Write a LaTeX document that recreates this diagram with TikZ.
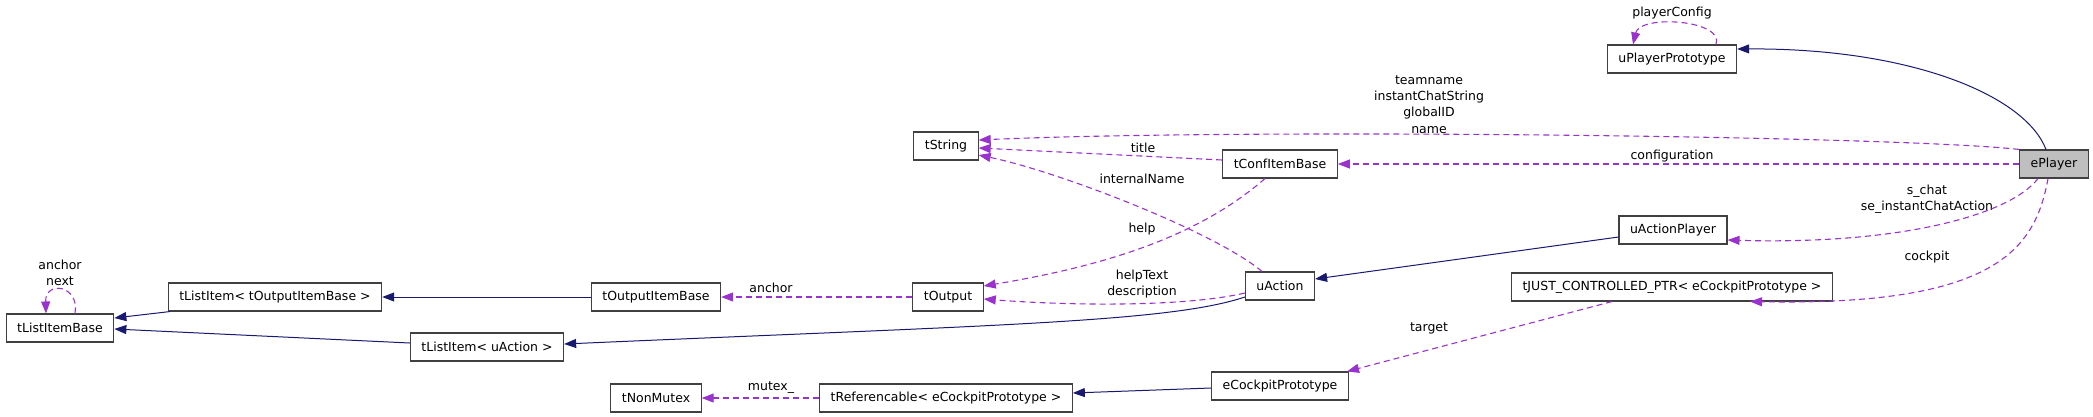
\documentclass[tikz,border=0pt]{standalone}
\usepackage{fontspec}
\setmainfont{DejaVu Sans}
\usetikzlibrary{arrows.meta,positioning}
\definecolor{inhblue}{HTML}{191970}
\definecolor{usepurple}{HTML}{9A32CD}
\definecolor{boxgray}{HTML}{BFBFBF}
\tikzstyle{klass} = [draw=black!75,line width=1.1pt,rectangle,inner xsep=11pt,inner ysep=0pt,minimum height=28pt,font=\fontsize{12.5}{16}\selectfont]
\tikzstyle{lbl} = [align=center,inner sep=0pt,font=\fontsize{12.5}{16.3}\selectfont]
\tikzstyle{inherit} = [draw=inhblue,line width=1pt,-{Triangle[length=12pt,width=9pt]}]
\tikzstyle{uses} = [draw=usepurple,line width=1.1pt,dash pattern=on 6pt off 4pt,-{Triangle[length=12pt,width=9pt,fill=usepurple]}]
\def \sh {10pt}

\begin{document}
\begin{tikzpicture}[x=1pt,y=-1pt]
      \useasboundingbox (0,0) rectangle (2093,416);
      \node[klass] (upp) at (1672,59) {uPlayerPrototype};
      \node[klass,fill=boxgray] (eplayer) at (2054,164) {ePlayer};
      \node[klass] (tstring) at (946,146) {tString};
      \node[klass] (tconf) at (1280,164) {tConfItemBase};
      \node[klass] (uap) at (1673,230) {uActionPlayer};
      \node[klass] (tjust) at (1672,287) {tJUST\_CONTROLLED\_PTR< eCockpitPrototype >};
      \node[klass] (uaction) at (1280,286) {uAction};
      \node[klass] (toutput) at (948,297) {tOutput};
      \node[klass] (toib) at (656,297) {tOutputItemBase};
      \node[klass] (tlio) at (275,297) {tListItem< tOutputItemBase >};
      \node[klass] (tlib) at (60,328) {tListItemBase};
      \node[klass] (tliu) at (487,347) {tListItem< uAction >};
      \node[klass] (ecp) at (1280,386) {eCockpitPrototype};
      \node[klass] (tref) at (946,398) {tReferencable< eCockpitPrototype >};
      \node[klass] (tnm) at (656,398) {tNonMutex};

      \node[lbl] (lpc) at (1672,13) {playerConfig};
      \node[lbl] (lname) at (1429,104.5) {teamname\\instantChatString\\globalID\\name};
      \node[lbl] (lconf) at (1672,156) {configuration};
      \node[lbl] (ltitle) at (1143,148) {title};
      \node[lbl] (lint) at (1142,179) {internalName};
      \node[lbl] (lhelp) at (1142,229) {help};
      \node[lbl] (lhelptext) at (1142,284) {helpText\\description};
      \node[lbl] (lchat) at (1927,199) {s\_chat\\se\_instantChatAction};
      \node[lbl] (lcockpit) at (1927,257) {cockpit};
      \node[lbl] (ltarget) at (1429,328) {target};
      \node[lbl] (lanchor) at (771,288) {anchor};
      \node[lbl] (lmutex) at (771,388) {mutex\_};
      \node[lbl] (lnext) at (60,272.5) {anchor\\next};

      \draw[inherit] ([xshift=-8pt]eplayer.north) .. controls (2025,95) and (1910,48) .. ([yshift=\sh]upp.east);
      \draw[uses] ([xshift=44pt]upp.north) .. controls (1725,20) and (1640,14) .. ([xshift=-39pt]upp.north);
      \draw[uses] (eplayer.north west) .. controls (1900,136) and (1250,128) .. ([yshift=6pt]tstring.east);
      \draw[uses] (eplayer.west) -- (tconf.east);
      \draw[uses] ([yshift=4pt]tconf.west) -- ([yshift=-2pt]tstring.east);
      \draw[uses] ([xshift=-18pt]uaction.north) .. controls (1215,232) and (1060,172) .. ([yshift=-9pt]tstring.east);
      \draw[uses] ([xshift=-15pt]tconf.south) .. controls (1200,235) and (1110,265) .. ([yshift=11pt]toutput.east);
      \draw[uses] ([yshift=-7pt]uaction.west) .. controls (1180,308) and (1060,305) .. ([yshift=-2pt]toutput.east);
      \draw[inherit] ([yshift=-11pt]uaction.west) .. controls (1170,322) and (1000,325) .. ([yshift=3pt]tliu.east);
      \draw[inherit] ([yshift=-7pt]uap.west) -- ([yshift=7pt]uaction.east);
      \draw[uses] ([xshift=-16pt]eplayer.south) .. controls (2010,215) and (1900,245) .. ([yshift=-\sh]uap.east);
      \draw[uses] ([xshift=-6pt]eplayer.south) .. controls (2035,250) and (1995,306) .. ([xshift=78pt]tjust.south);
      \draw[uses] ([xshift=-60pt]tjust.south) -- ([xshift=67pt]ecp.north);
      \draw[inherit] ([yshift=-2pt]ecp.west) -- ([yshift=5pt]tref.east);
      \draw[uses] (tref.west) -- (tnm.east);
      \draw[uses] (toutput.west) -- (toib.east);
      \draw[inherit] (toib.west) -- (tlio.east);
      \draw[inherit] ([xshift=-105pt]tlio.south) -- ([yshift=\sh]tlib.east);
      \draw[inherit] ([yshift=4pt]tliu.west) -- ([yshift=-1pt]tlib.east);
      \draw[uses] ([xshift=15pt]tlib.north) .. controls (80,285) and (45,280) .. ([xshift=-14pt]tlib.north);
    \end{tikzpicture}
\end{document}
